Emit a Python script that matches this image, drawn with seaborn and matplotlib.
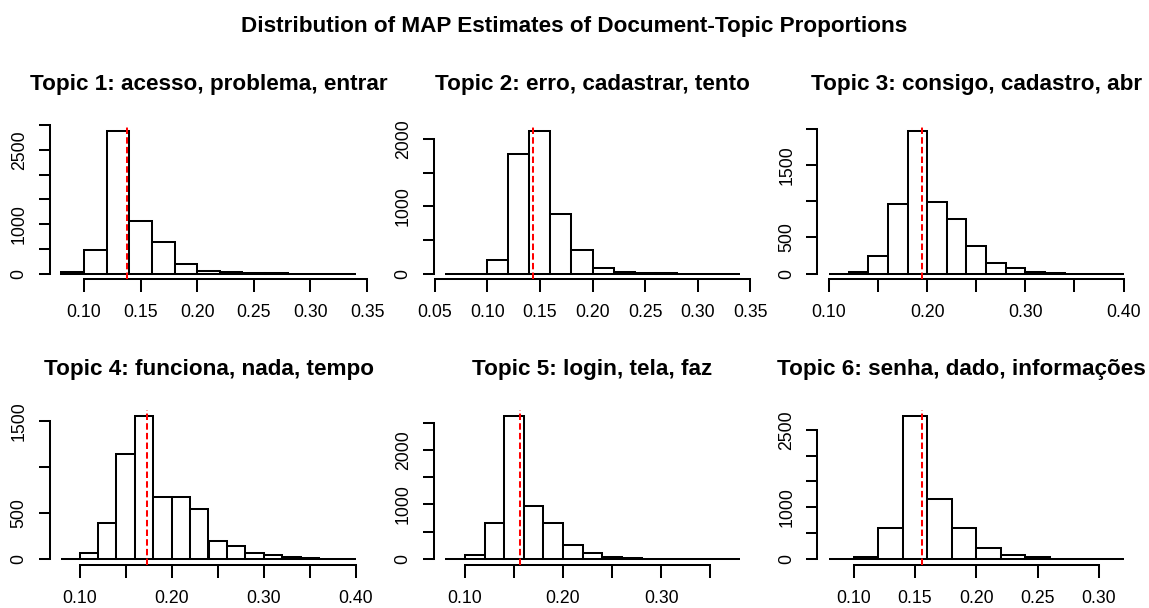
import numpy as np
import pandas as pd
import matplotlib
matplotlib.use("Agg")
import matplotlib.pyplot as plt
import seaborn as sns

# Topic labels (top three words per topic)
topic_titles = [
    "Topic 1: acesso, problema, entrar",
    "Topic 2: erro, cadastrar, tento",
    "Topic 3: consigo, cadastro, abr",
    "Topic 4: funciona, nada, tempo",
    "Topic 5: login, tela, faz",
    "Topic 6: senha, dado, informações",
]

# Histogram bins: width 0.02, first break of each topic
bin_width = 0.02
bin_start = [0.08, 0.06, 0.10, 0.08, 0.08, 0.08]

# Document counts per bin for each topic
counts_t1 = [30, 473, 2892, 1061, 642, 203, 54, 27, 3, 2, 1, 0, 1]
counts_t2 = [1, 0, 199, 1776, 2129, 886, 348, 90, 20, 4, 2, 1, 0, 1]
counts_t3 = [0, 28, 239, 963, 1972, 986, 752, 376, 147, 73, 28, 2, 1, 0, 1]
counts_t4 = [1, 61, 393, 1134, 1552, 675, 675, 542, 195, 134, 61, 43, 22, 4, 1, 1]
counts_t5 = [1, 67, 663, 2626, 979, 663, 261, 103, 36, 8, 3, 1, 1, 0, 1]
counts_t6 = [1, 32, 592, 2772, 1158, 592, 206, 77, 32, 4, 2, 1]
all_counts = [counts_t1, counts_t2, counts_t3, counts_t4, counts_t5, counts_t6]

# Mean MAP proportion of each topic (dashed red reference line)
map_means = [0.138, 0.1438, 0.195, 0.1736, 0.1559, 0.1554]

# x-axis tick positions and the labels that are printed
x_ticks = [
    [0.10, 0.15, 0.20, 0.25, 0.30, 0.35],
    [0.05, 0.10, 0.15, 0.20, 0.25, 0.30, 0.35],
    [0.10, 0.15, 0.20, 0.25, 0.30, 0.35, 0.40],
    [0.10, 0.15, 0.20, 0.25, 0.30, 0.35, 0.40],
    [0.10, 0.15, 0.20, 0.25, 0.30, 0.35],
    [0.10, 0.15, 0.20, 0.25, 0.30],
]
x_labels = [
    ["0.10", "0.15", "0.20", "0.25", "0.30", "0.35"],
    ["0.05", "0.10", "0.15", "0.20", "0.25", "0.30", "0.35"],
    ["0.10", "", "0.20", "", "0.30", "", "0.40"],
    ["0.10", "", "0.20", "", "0.30", "", "0.40"],
    ["0.10", "", "0.20", "", "0.30", ""],
    ["0.10", "0.15", "0.20", "0.25", "0.30"],
]

# y-axis ticks every 500 documents, with the labels that are printed
y_top = [3000, 2000, 2000, 1500, 2500, 2500]
y_labels = [
    ["0", "", "1000", "", "", "2500", ""],
    ["0", "", "1000", "", "2000"],
    ["0", "500", "", "1500", ""],
    ["0", "500", "", "1500"],
    ["0", "", "1000", "", "2000", ""],
    ["0", "", "1000", "", "", "2500"],
]

sns.set_theme(style="white")
plt.rcParams["font.family"] = ["Liberation Sans", "DejaVu Sans"]
plt.rcParams["text.color"] = "black"
plt.rcParams["axes.titlecolor"] = "black"

W, H = 1149, 608
fig = plt.figure(figsize=(W / 100, H / 100), dpi=100)
fig.patch.set_facecolor("white")

LW = 1.45
TITLE_SIZE = 16.2
col_left = [49.5, 433.5, 817.3]
row_top = [125.0, 410.2]
ax_w, ax_h = 318.0, 154.3

for i in range(6):
    r, c = divmod(i, 3)
    left = col_left[c] / W
    bottom = (H - row_top[r] - ax_h) / H
    ax = fig.add_axes([left, bottom, ax_w / W, ax_h / H])

    counts = [float(v) for v in all_counts[i]]
    n_bins = len(counts)
    edges = [round(bin_start[i] + bin_width * k, 4) for k in range(n_bins + 1)]
    centers = [(edges[k] + edges[k + 1]) / 2 for k in range(n_bins)]
    df = pd.DataFrame({"proportion": centers, "n": counts})

    sns.histplot(data=df, x="proportion", weights="n", bins=edges,
                 stat="count", color="white", edgecolor="black",
                 linewidth=LW, alpha=1, ax=ax)

    ax.axvline(map_means[i], color="#ff0000", linewidth=LW,
               linestyle=(0, (3.2, 1.6)), zorder=5)

    lo, hi = edges[0], edges[-1]
    span = hi - lo
    ax.set_xlim(lo - 0.04 * span, hi + 0.04 * span)
    ymax = max(counts)
    ax.set_ylim(-0.04 * ymax, 1.04 * ymax)

    ax.set_xticks(x_ticks[i], labels=x_labels[i])
    yt = np.arange(0, y_top[i] + 1, 500)
    ax.set_yticks(yt, labels=y_labels[i])

    for s in ("top", "right"):
        ax.spines[s].set_visible(False)
    for s in ("left", "bottom"):
        ax.spines[s].set_linewidth(LW)
        ax.spines[s].set_color("black")
    ax.spines["bottom"].set_bounds(x_ticks[i][0], x_ticks[i][-1])
    ax.spines["left"].set_bounds(0, y_top[i])

    ax.tick_params(axis="x", direction="out", length=9.6, width=LW,
                   pad=8.5, labelsize=12.7, colors="black", bottom=True)
    ax.tick_params(axis="y", direction="out", length=7.7, width=LW,
                   pad=8, labelsize=12.7, colors="black", left=True)
    for lab in ax.get_yticklabels():
        lab.set_rotation(90)
        lab.set_va("center")

    ax.set_xlabel("")
    ax.set_ylabel("")
    ax.grid(False)
    if i == 5:
        # longest title: right-align it so it stays inside the figure
        ax.set_title(topic_titles[i], fontsize=TITLE_SIZE, fontweight="bold",
                     pad=25.2, loc="right", x=(1146 - col_left[c]) / ax_w)
    else:
        ax.set_title(topic_titles[i], fontsize=TITLE_SIZE, fontweight="bold",
                     pad=25.2)

fig.suptitle("Distribution of MAP Estimates of Document-Topic Proportions",
             fontsize=TITLE_SIZE, fontweight="bold", y=(H - 31.7) / H,
             va="baseline", color="black")

fig.savefig("out.png", dpi=100, facecolor="white")
